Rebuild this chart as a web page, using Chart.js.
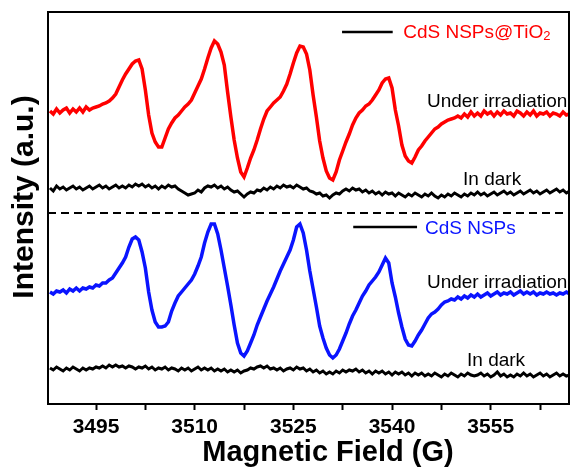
<!DOCTYPE html>
<html>
<head>
<meta charset="utf-8">
<script src="https://cdn.jsdelivr.net/npm/chart.js@4.4.1/dist/chart.umd.min.js"></script>
<style>
  html, body { margin: 0; padding: 0; background: #fff; }
  #wrap { width: 572px; height: 471px; }
</style>
</head>
<body>
<div id="wrap"><canvas id="epr_chart"></canvas></div>
<script>
// magnetic field (G), 0.5 G steps
var field = [
  3488, 3488.5, 3489, 3489.5, 3490, 3490.5, 3491, 3491.5, 3492, 3492.5,
  3493, 3493.5, 3494, 3494.5, 3495, 3495.5, 3496, 3496.5, 3497, 3497.5,
  3498, 3498.5, 3499, 3499.5, 3500, 3500.5, 3501, 3501.5, 3502, 3502.5,
  3503, 3503.5, 3504, 3504.5, 3505, 3505.5, 3506, 3506.5, 3507, 3507.5,
  3508, 3508.5, 3509, 3509.5, 3510, 3510.5, 3511, 3511.5, 3512, 3512.5,
  3513, 3513.5, 3514, 3514.5, 3515, 3515.5, 3516, 3516.5, 3517, 3517.5,
  3518, 3518.5, 3519, 3519.5, 3520, 3520.5, 3521, 3521.5, 3522, 3522.5,
  3523, 3523.5, 3524, 3524.5, 3525, 3525.5, 3526, 3526.5, 3527, 3527.5,
  3528, 3528.5, 3529, 3529.5, 3530, 3530.5, 3531, 3531.5, 3532, 3532.5,
  3533, 3533.5, 3534, 3534.5, 3535, 3535.5, 3536, 3536.5, 3537, 3537.5,
  3538, 3538.5, 3539, 3539.5, 3540, 3540.5, 3541, 3541.5, 3542, 3542.5,
  3543, 3543.5, 3544, 3544.5, 3545, 3545.5, 3546, 3546.5, 3547, 3547.5,
  3548, 3548.5, 3549, 3549.5, 3550, 3550.5, 3551, 3551.5, 3552, 3552.5,
  3553, 3553.5, 3554, 3554.5, 3555, 3555.5, 3556, 3556.5, 3557, 3557.5,
  3558, 3558.5, 3559, 3559.5, 3560, 3560.5, 3561, 3561.5, 3562, 3562.5,
  3563, 3563.5, 3564, 3564.5, 3565, 3565.5, 3566, 3566.5, 3567
];

// CdS NSPs@TiO2, under irradiation (offset trace, a.u.)
var tio2Light = [
  293, 290, 295, 291, 294, 296, 291, 295, 292, 296,
  292, 297, 294, 296, 297, 298, 300, 301, 303, 306,
  310, 317, 324, 330, 335, 340, 343, 344, 335, 314,
  289, 271, 262, 257, 257, 266, 275, 281, 286, 289,
  293, 297, 300, 304, 311, 318, 325, 335, 346, 356,
  363, 360, 352, 339, 312, 287, 264, 246, 232, 227,
  236, 246, 254, 264, 275, 285, 293, 297, 301, 304,
  307, 313, 320, 330, 341, 351, 358, 357, 350, 334,
  309, 287, 263, 246, 233, 226, 224, 232, 244, 253,
  262, 270, 279, 286, 291, 294, 298, 300, 304, 309,
  314, 321, 325, 326, 316, 294, 278, 259, 248, 243,
  241, 247, 254, 258, 263, 267, 271, 275, 277, 280,
  282, 284, 285, 286, 288, 286, 290, 287, 292, 288,
  291, 288, 293, 290, 292, 288, 292, 289, 293, 290,
  291, 288, 293, 291, 288, 292, 289, 293, 288, 291,
  290, 292, 288, 291, 290, 288, 292, 289, 290
];

// CdS NSPs@TiO2, in dark
var tio2Dark = [
  216, 213, 218, 215, 217, 214, 216, 218, 215, 217,
  214, 216, 218, 215, 217, 219, 216, 218, 215, 217,
  219, 216, 218, 216, 219, 217, 220, 218, 220, 217,
  219, 216, 218, 215, 218, 216, 219, 217, 218, 215,
  213, 211, 209, 210, 211, 214, 212, 216, 218, 217,
  219, 216, 218, 215, 217, 214, 212, 213, 210, 207,
  210, 212, 211, 214, 213, 216, 214, 217, 215, 218,
  216, 219, 217, 218, 216, 219, 217, 215, 216, 213,
  212, 210, 211, 208, 209, 206, 209, 211, 210, 213,
  215, 213, 216, 214, 215, 212, 214, 211, 213, 210,
  212, 209, 212, 210, 211, 208, 211, 209, 207, 210,
  208, 211, 209, 207, 210, 208, 211, 208, 206, 209,
  207, 210, 208, 211, 209, 207, 210, 208, 211, 209,
  212, 209, 211, 208, 210, 212, 209, 211, 213, 210,
  212, 209, 211, 213, 210, 212, 214, 211, 213, 210,
  212, 214, 211, 213, 215, 212, 214, 211, 213
];

// CdS NSPs, under irradiation
var cdsLight = [
  112, 110, 113, 112, 114, 111, 115, 113, 116, 113,
  116, 115, 117, 116, 119, 118, 121, 121, 124, 126,
  131, 136, 141, 147, 157, 165, 167, 164, 152, 136,
  112,  94,  82,  77,  77,  78,  82,  93, 101, 108,
  112, 116, 120, 124, 130, 138, 147, 161, 172, 180,
  180, 170, 154, 136, 118,  99,  79,  61,  51,  48,
   53,  61,  69,  79,  87,  95, 103, 110, 117, 125,
  133, 140, 147, 154, 164, 177, 180, 171, 154, 133,
  115,  97,  78,  66,  56,  49,  46,  49,  55,  63,
   71,  80,  88,  94, 101, 108, 113, 119, 123, 127,
  132, 139, 146, 141, 121, 107,  91,  77,  65,  59,
   58,  63,  69,  74,  80,  86,  90,  92,  95,  99,
  102, 103, 105, 104, 107, 105, 108, 106, 109, 107,
  110, 107, 109, 111, 108, 110, 112, 109, 111, 110,
  112, 109, 111, 113, 110, 112, 110, 112, 109, 111,
  110, 112, 110, 111, 109, 111, 110, 112, 110
];

// CdS NSPs, in dark
var cdsDark = [
  36, 34, 37, 35, 33, 36, 34, 37, 35, 33,
  36, 34, 36, 35, 37, 36, 38, 36, 39, 37,
  39, 37, 38, 36, 38, 37, 35, 37, 36, 38,
  35, 37, 34, 36, 35, 37, 34, 36, 35, 33,
  36, 34, 36, 33, 35, 37, 34, 36, 34, 36,
  33, 35, 33, 35, 32, 34, 32, 34, 31, 33,
  34, 36, 35, 37, 38, 36, 38, 35, 36, 34,
  36, 33, 35, 36, 34, 37, 35, 36, 33, 35,
  32, 34, 31, 33, 30, 32, 30, 33, 31, 34,
  32, 34, 33, 35, 32, 34, 31, 33, 30, 33,
  31, 33, 30, 32, 29, 32, 30, 32, 29, 31,
  28, 31, 29, 31, 28, 30, 28, 31, 29, 27,
  30, 28, 31, 29, 27, 30, 28, 31, 29, 28,
  29, 31, 28, 30, 27, 29, 32, 28, 30, 27,
  29, 27, 30, 28, 31, 28, 30, 27, 29, 31,
  28, 30, 27, 29, 31, 28, 30, 28, 29
];

// level of the dashed line separating the two samples
var dividerLevel = 191;

var FONT = "'Liberation Sans', Arial, Helvetica, sans-serif";
var RED = '#ff0000';
var BLUE = '#0a14ff';

// inline keys: short black bar followed by the sample name
var keys = [
  { x0: 3532.4, x1: 3540.1, y: 372, label: 'CdS NSPs@TiO', sub: '2', tx: 3541.7, ty: 366, color: RED },
  { x0: 3534.1, x1: 3543.8, y: 177, label: 'CdS NSPs', sub: '', tx: 3545.0, ty: 170, color: BLUE }
];

// condition labels next to each trace (x in G, baseline in a.u.)
var notes = [
  { text: 'Under irradiation', x: 3545.3, y: 297 },
  { text: 'In dark', x: 3550.8, y: 219 },
  { text: 'Under irradiation', x: 3545.3, y: 116 },
  { text: 'In dark', x: 3551.4, y: 38 }
];

function points(values) {
  return field.map(function (g, i) { return { x: g, y: values[i] }; });
}

function trace(values, color, width) {
  return {
    data: points(values),
    borderColor: color,
    borderWidth: width,
    pointRadius: 0,
    tension: 0,
    fill: false
  };
}

var textLayer = {
  id: 'textLayer',
  afterDatasetsDraw: function (chart) {
    var ctx = chart.ctx;
    var a = chart.chartArea;
    var xs = chart.scales.x;
    var ys = chart.scales.y;
    ctx.save();

    // box around the plot
    ctx.strokeStyle = '#000';
    ctx.lineWidth = 2;
    ctx.strokeRect(a.left, a.top, a.right - a.left, a.bottom - a.top);

    // keys
    keys.forEach(function (k) {
      var ky = ys.getPixelForValue(k.y);
      ctx.beginPath();
      ctx.lineWidth = 2.5;
      ctx.strokeStyle = '#000';
      ctx.moveTo(xs.getPixelForValue(k.x0), ky);
      ctx.lineTo(xs.getPixelForValue(k.x1), ky);
      ctx.stroke();

      var tx = xs.getPixelForValue(k.tx);
      var ty = ys.getPixelForValue(k.ty);
      ctx.fillStyle = k.color;
      ctx.textBaseline = 'alphabetic';
      ctx.textAlign = 'left';
      ctx.font = '19px ' + FONT;
      ctx.fillText(k.label, tx, ty);
      if (k.sub) {
        var w = ctx.measureText(k.label).width;
        ctx.font = '13px ' + FONT;
        ctx.fillText(k.sub, tx + w, ty + 2);
      }
    });

    // condition labels
    ctx.fillStyle = '#000';
    ctx.font = '19px ' + FONT;
    ctx.textAlign = 'left';
    ctx.textBaseline = 'alphabetic';
    notes.forEach(function (n) {
      ctx.fillText(n.text, xs.getPixelForValue(n.x), ys.getPixelForValue(n.y));
    });

    // axis titles
    ctx.font = 'bold 29px ' + FONT;
    ctx.textAlign = 'center';
    ctx.fillText('Magnetic Field (G)', 328, 461);

    ctx.translate(33, 197);
    ctx.rotate(-Math.PI / 2);
    ctx.font = 'bold 30px ' + FONT;
    ctx.fillText('Intensity (a.u.)', 0, 0);

    ctx.restore();
  }
};

var divider = {
  data: [{ x: 3487.7, y: dividerLevel }, { x: 3566.9, y: dividerLevel }],
  borderColor: '#000',
  borderWidth: 2,
  borderDash: [8, 5],
  pointRadius: 0,
  fill: false
};

var ctx = document.getElementById('epr_chart');

var eprChart = new Chart(ctx, {
  type: 'line',
  data: {
    datasets: [
      trace(tio2Dark, '#000', 3),
      trace(cdsDark, '#000', 3),
      trace(tio2Light, RED, 3.5),
      trace(cdsLight, BLUE, 3.5),
      divider
    ]
  },
  options: {
    responsive: true,
    maintainAspectRatio: false,
    animation: false,
    layout: { padding: { left: 48, right: 3, top: 12, bottom: 0 } },
    plugins: {
      legend: { display: false },
      tooltip: { enabled: false }
    },
    scales: {
      x: {
        type: 'linear',
        min: 3487.7,
        max: 3566.9,
        border: { display: false },
        grid: {
          drawOnChartArea: false,
          drawTicks: true,
          tickLength: 6,
          tickWidth: 2,
          tickColor: '#000'
        },
        ticks: {
          stepSize: 7.5,
          includeBounds: false,
          autoSkip: false,
          maxRotation: 0,
          padding: 5,
          color: '#000',
          font: { family: FONT, size: 21, weight: 'bold' },
          callback: function (v) { return v % 15 === 0 ? String(v) : ''; }
        },
        afterFit: function (scale) { scale.height = 67; }
      },
      y: {
        type: 'linear',
        min: 0,
        max: 392,
        display: false
      }
    }
  },
  plugins: [textLayer]
});
</script>
</body>
</html>
